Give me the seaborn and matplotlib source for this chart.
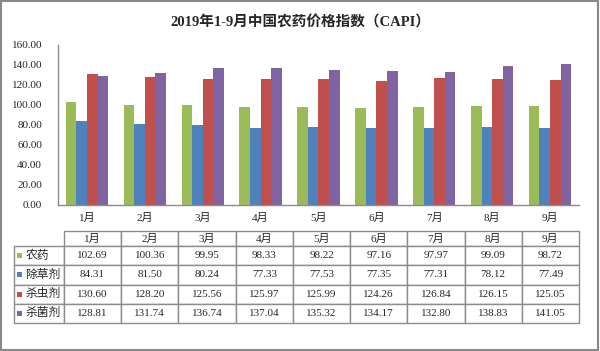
import matplotlib
matplotlib.use("Agg")
from matplotlib import pyplot as plt
from matplotlib.patches import Rectangle
import pandas as pd
import seaborn as sns

# Data z grafu
mesice = ["1月", "2月", "3月", "4月", "5月", "6月", "7月", "8月", "9月"]
serie = ["农药", "除草剂", "杀虫剂", "杀菌剂"]
nongyao = [102.69, 100.36, 99.95, 98.33, 98.22, 97.16, 97.97, 99.09, 98.72]
chucaoji = [84.31, 81.50, 80.24, 77.33, 77.53, 77.35, 77.31, 78.12, 77.49]
shachongji = [130.60, 128.20, 125.56, 125.97, 125.99, 124.26, 126.84, 126.15, 125.05]
shajunji = [128.81, 131.74, 136.74, 137.04, 135.32, 134.17, 132.80, 138.83, 141.05]
y_ticky = [0, 20, 40, 60, 80, 100, 120, 140, 160]
barvy = ["#9BBB59", "#4F81BD", "#C0504D", "#8064A2"]

hodnoty = [nongyao, chucaoji, shachongji, shajunji]
df = pd.DataFrame({
    "mesic": [m for _ in serie for m in mesice],
    "serie": [s for s in serie for _ in mesice],
    "hodnota": [v for vals in hodnoty for v in vals],
})

sns.set_style("white")
pismo = ["Liberation Serif", "Noto Sans CJK SC"]
plt.rcParams["font.family"] = pismo
seda = "#8c8c8c"

fig = plt.figure(figsize=(6, 3.51), dpi=100)
# Ramecek kolem obrazku
fig.patches.append(Rectangle((0.002, 0.003), 0.995, 0.994, transform=fig.transFigure,
                             fill=False, edgecolor="#888888", linewidth=1.5))

fig.text(0.5, 0.937, "2019年1-9月中国农药价格指数（CAPI）", ha="center", va="center",
         fontsize=10.5, fontweight="bold", family=pismo)

# Sloupcovy graf
ax = fig.add_axes([58 / 600, (351 - 205) / 351, 521 / 600, 160 / 351])
sns.barplot(data=df, x="mesic", y="hodnota", hue="serie", palette=barvy, width=0.73,
            saturation=1, legend=False, linewidth=0, gap=0, ax=ax)
ax.set_ylim(0, 160)
ax.set_yticks(y_ticky)
ax.set_yticklabels([f"{t:.2f}" for t in y_ticky], fontsize=8)
ax.set_xlabel("")
ax.set_ylabel("")
ax.tick_params(axis="both", length=0, labelsize=8)
ax.tick_params(axis="y", pad=11.5)
ax.tick_params(axis="x", pad=6)
for s in ["top", "right"]:
    ax.spines[s].set_visible(False)
for s in ["left", "bottom"]:
    ax.spines[s].set_color(seda)
    ax.spines[s].set_linewidth(1.0)

# Tabulka s hodnotami
tab_ax = fig.add_axes([14 / 600, (351 - 323) / 351, 565 / 600, 92 / 351])
tab_ax.axis("off")
radky = [[""] + mesice] + [[""] + [f"{v:.2f}" for v in vals] for vals in hodnoty]
sirky = [50 / 565] + [57.22 / 565] * 9
tbl = tab_ax.table(cellText=radky, colWidths=sirky, cellLoc="center", bbox=[0, 0, 1, 1])
tbl.auto_set_font_size(False)
vysky = [15] + [19.25] * 4
for (r, c), cell in tbl.get_celld().items():
    cell.set_height(vysky[r])
    cell.set_edgecolor(seda)
    cell.set_linewidth(1.0)
    cell.get_text().set_fontsize(8)
    cell.get_text().set_fontfamily(pismo)
    if r == 0 and c == 0:
        cell.visible_edges = ""

# Popisky radku s barevnymi ctverecky
celkem = sum(vysky)
for i, (nazev, barva) in enumerate(zip(serie, barvy)):
    horni = celkem - sum(vysky[:i + 1])
    stred = (horni - vysky[i + 1] / 2) / celkem
    tab_ax.add_patch(Rectangle((3 / 565, stred - 2.5 / 92), 5 / 565, 5 / 92,
                               transform=tab_ax.transAxes, facecolor=barva,
                               edgecolor="none", clip_on=False))
    tab_ax.text(11.5 / 565, stred, nazev, transform=tab_ax.transAxes, ha="left",
                va="center", fontsize=8.5, family=pismo)

fig.savefig("out.png", dpi=100)
